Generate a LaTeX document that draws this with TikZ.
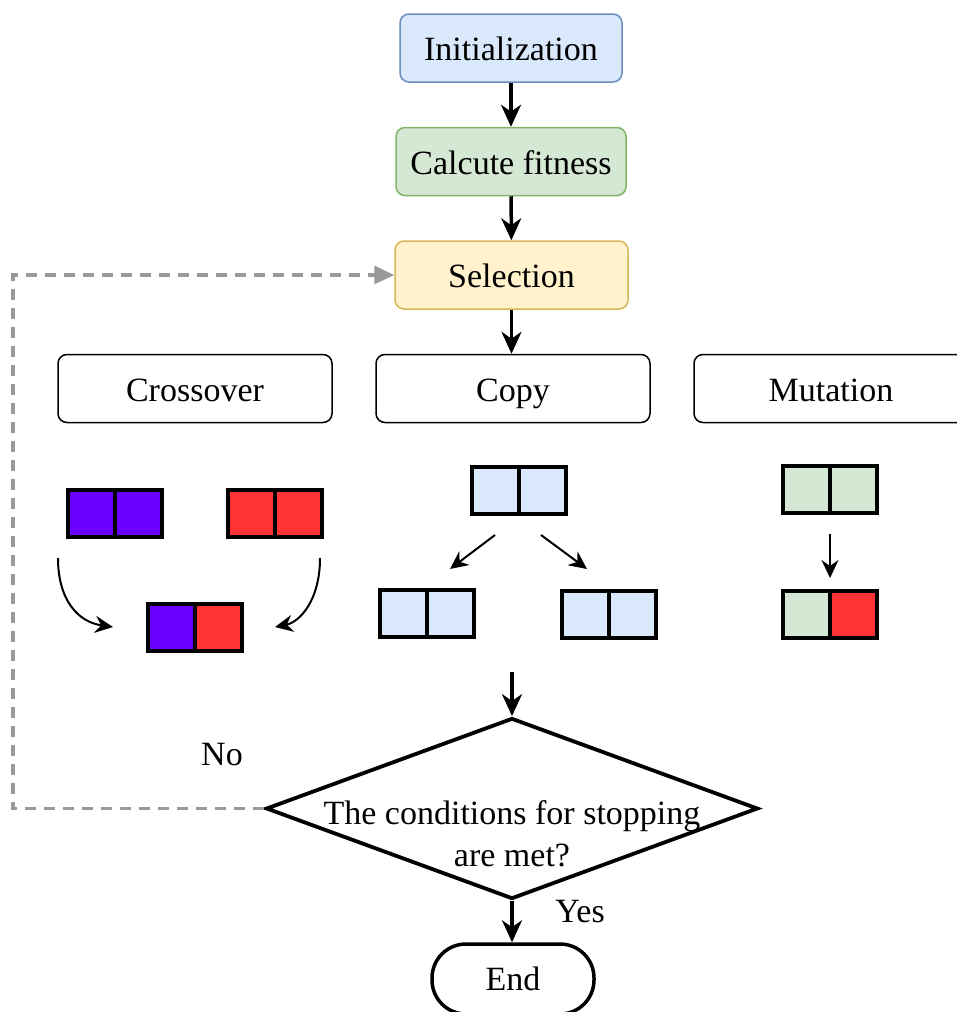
\documentclass[tikz,border=0pt]{standalone}
\usepackage{fontspec}
\setmainfont{Liberation Serif}
\usetikzlibrary{shapes.geometric,arrows.meta}
\definecolor{blueF}{HTML}{DAE8FC}
\definecolor{blueD}{HTML}{6C8EBF}
\definecolor{greenF}{HTML}{D5E8D4}
\definecolor{greenD}{HTML}{82B366}
\definecolor{yellowF}{HTML}{FFF2CC}
\definecolor{yellowD}{HTML}{D6B656}
\definecolor{purpleG}{HTML}{6A00FF}
\definecolor{redG}{HTML}{FF3333}
\definecolor{loopgray}{HTML}{999999}
\newcommand\mychromo[5]{%
  \node[gene, fill=#4] (#1a) at (#2-23.5,#3) {};
  \node[gene, fill=#5] (#1b) at (#2+23.5,#3) {};}
\begin{document}
\begin{tikzpicture}[x=1pt,y=-1pt,
  lbl/.style={font=\fontsize{34}{42}\selectfont},
  proc/.style={draw, rounded corners=9pt, line width=1.5pt, minimum height=68pt, inner sep=0pt, text height=25pt, text depth=0pt, lbl},
  gene/.style={draw=black, line width=4pt, minimum width=47pt, minimum height=47pt, inner sep=0pt},
  mainarr/.style={line width=3.5pt, -{Stealth[length=22pt,width=20pt,inset=7pt]}},
  thinarr/.style={line width=2pt, -{Stealth[length=18pt,width=17pt,inset=6pt]}},
  loopline/.style={draw=loopgray, line width=3.2pt, dash pattern=on 11pt off 8pt, -{Triangle[length=20pt,width=18pt,fill=loopgray]}}
]
\useasboundingbox (0,0) rectangle (956,1012);

% main column
\node[proc, fill=blueF, draw=blueD, minimum width=222pt] (init) at (511,48) {Initialization};
\node[proc, fill=greenF, draw=greenD, minimum width=230pt] (calc) at (511,161.5) {Calcute fitness};
\node[proc, fill=yellowF, draw=yellowD, minimum width=233pt] (sel) at (511.5,275) {Selection};

% operator boxes
\node[proc, minimum width=274pt] (cross) at (195,388.5) {Crossover};
\node[proc, minimum width=274pt] (copy) at (513,388.5) {Copy};
\node[proc, minimum width=274pt] (mut) at (831,388.5) {Mutation};

\draw[mainarr] (init) -- (calc);
\draw[mainarr] (calc) -- (sel);
\draw[mainarr] (sel.south) -- (sel.south |- copy.north);

% crossover chromosomes
\mychromo{pa}{115}{513.5}{purpleG}{purpleG}
\mychromo{pb}{274.5}{513.5}{redG}{redG}
\mychromo{ch}{194.5}{627.5}{purpleG}{redG}
\coordinate (xl1) at (58,558);
\coordinate (xl2) at (113,627);
\coordinate (xr1) at (320,558);
\coordinate (xr2) at (275,627);
\draw[thinarr] (xl1) .. controls (58,600) and (78,622) .. (xl2);
\draw[thinarr] (xr1) .. controls (320,600) and (300,622) .. (xr2);

% copy chromosomes
\mychromo{cp}{518.5}{490}{blueF}{blueF}
\mychromo{cl}{427}{613.5}{blueF}{blueF}
\mychromo{cr}{609}{614.5}{blueF}{blueF}
\coordinate (cl1) at (495,535);
\coordinate (cl2) at (450,569);
\coordinate (cr1) at (541,535);
\coordinate (cr2) at (587,569);
\draw[thinarr] (cl1) -- (cl2);
\draw[thinarr] (cr1) -- (cr2);

% mutation chromosomes
\mychromo{mp}{830}{489.5}{greenF}{greenF}
\mychromo{mc}{830}{614.5}{greenF}{redG}
\coordinate (m1) at (830,534);
\coordinate (m2) at (830,578);
\draw[thinarr] (m1) -- (m2);

% decision
\node[diamond, draw, line width=3.8pt, minimum width=492pt, minimum height=181pt, inner sep=0pt] (cond) at (512,808.5) {};
\node[lbl, align=center, inner sep=0pt] (condtext) at (512,834) {The conditions for stopping\\are met?};
\coordinate (din) at (512,672);
\draw[mainarr] (din) -- (cond.north);

% end
\node[draw, line width=3.5pt, rounded corners=34pt, minimum width=162pt, minimum height=70pt, inner sep=0pt, lbl] (end) at (513,979) {End};
\draw[mainarr] (cond.south) -- (cond.south |- end.north);

\node[lbl, inner sep=0pt] (yes) at (580,912) {Yes};
\node[lbl, inner sep=0pt] (no) at (222,755) {No};

% loop back
\coordinate (lc) at (13,808.5);
\draw[loopline] (cond.west) -- (lc) |- (sel.west);
\end{tikzpicture}
\end{document}
